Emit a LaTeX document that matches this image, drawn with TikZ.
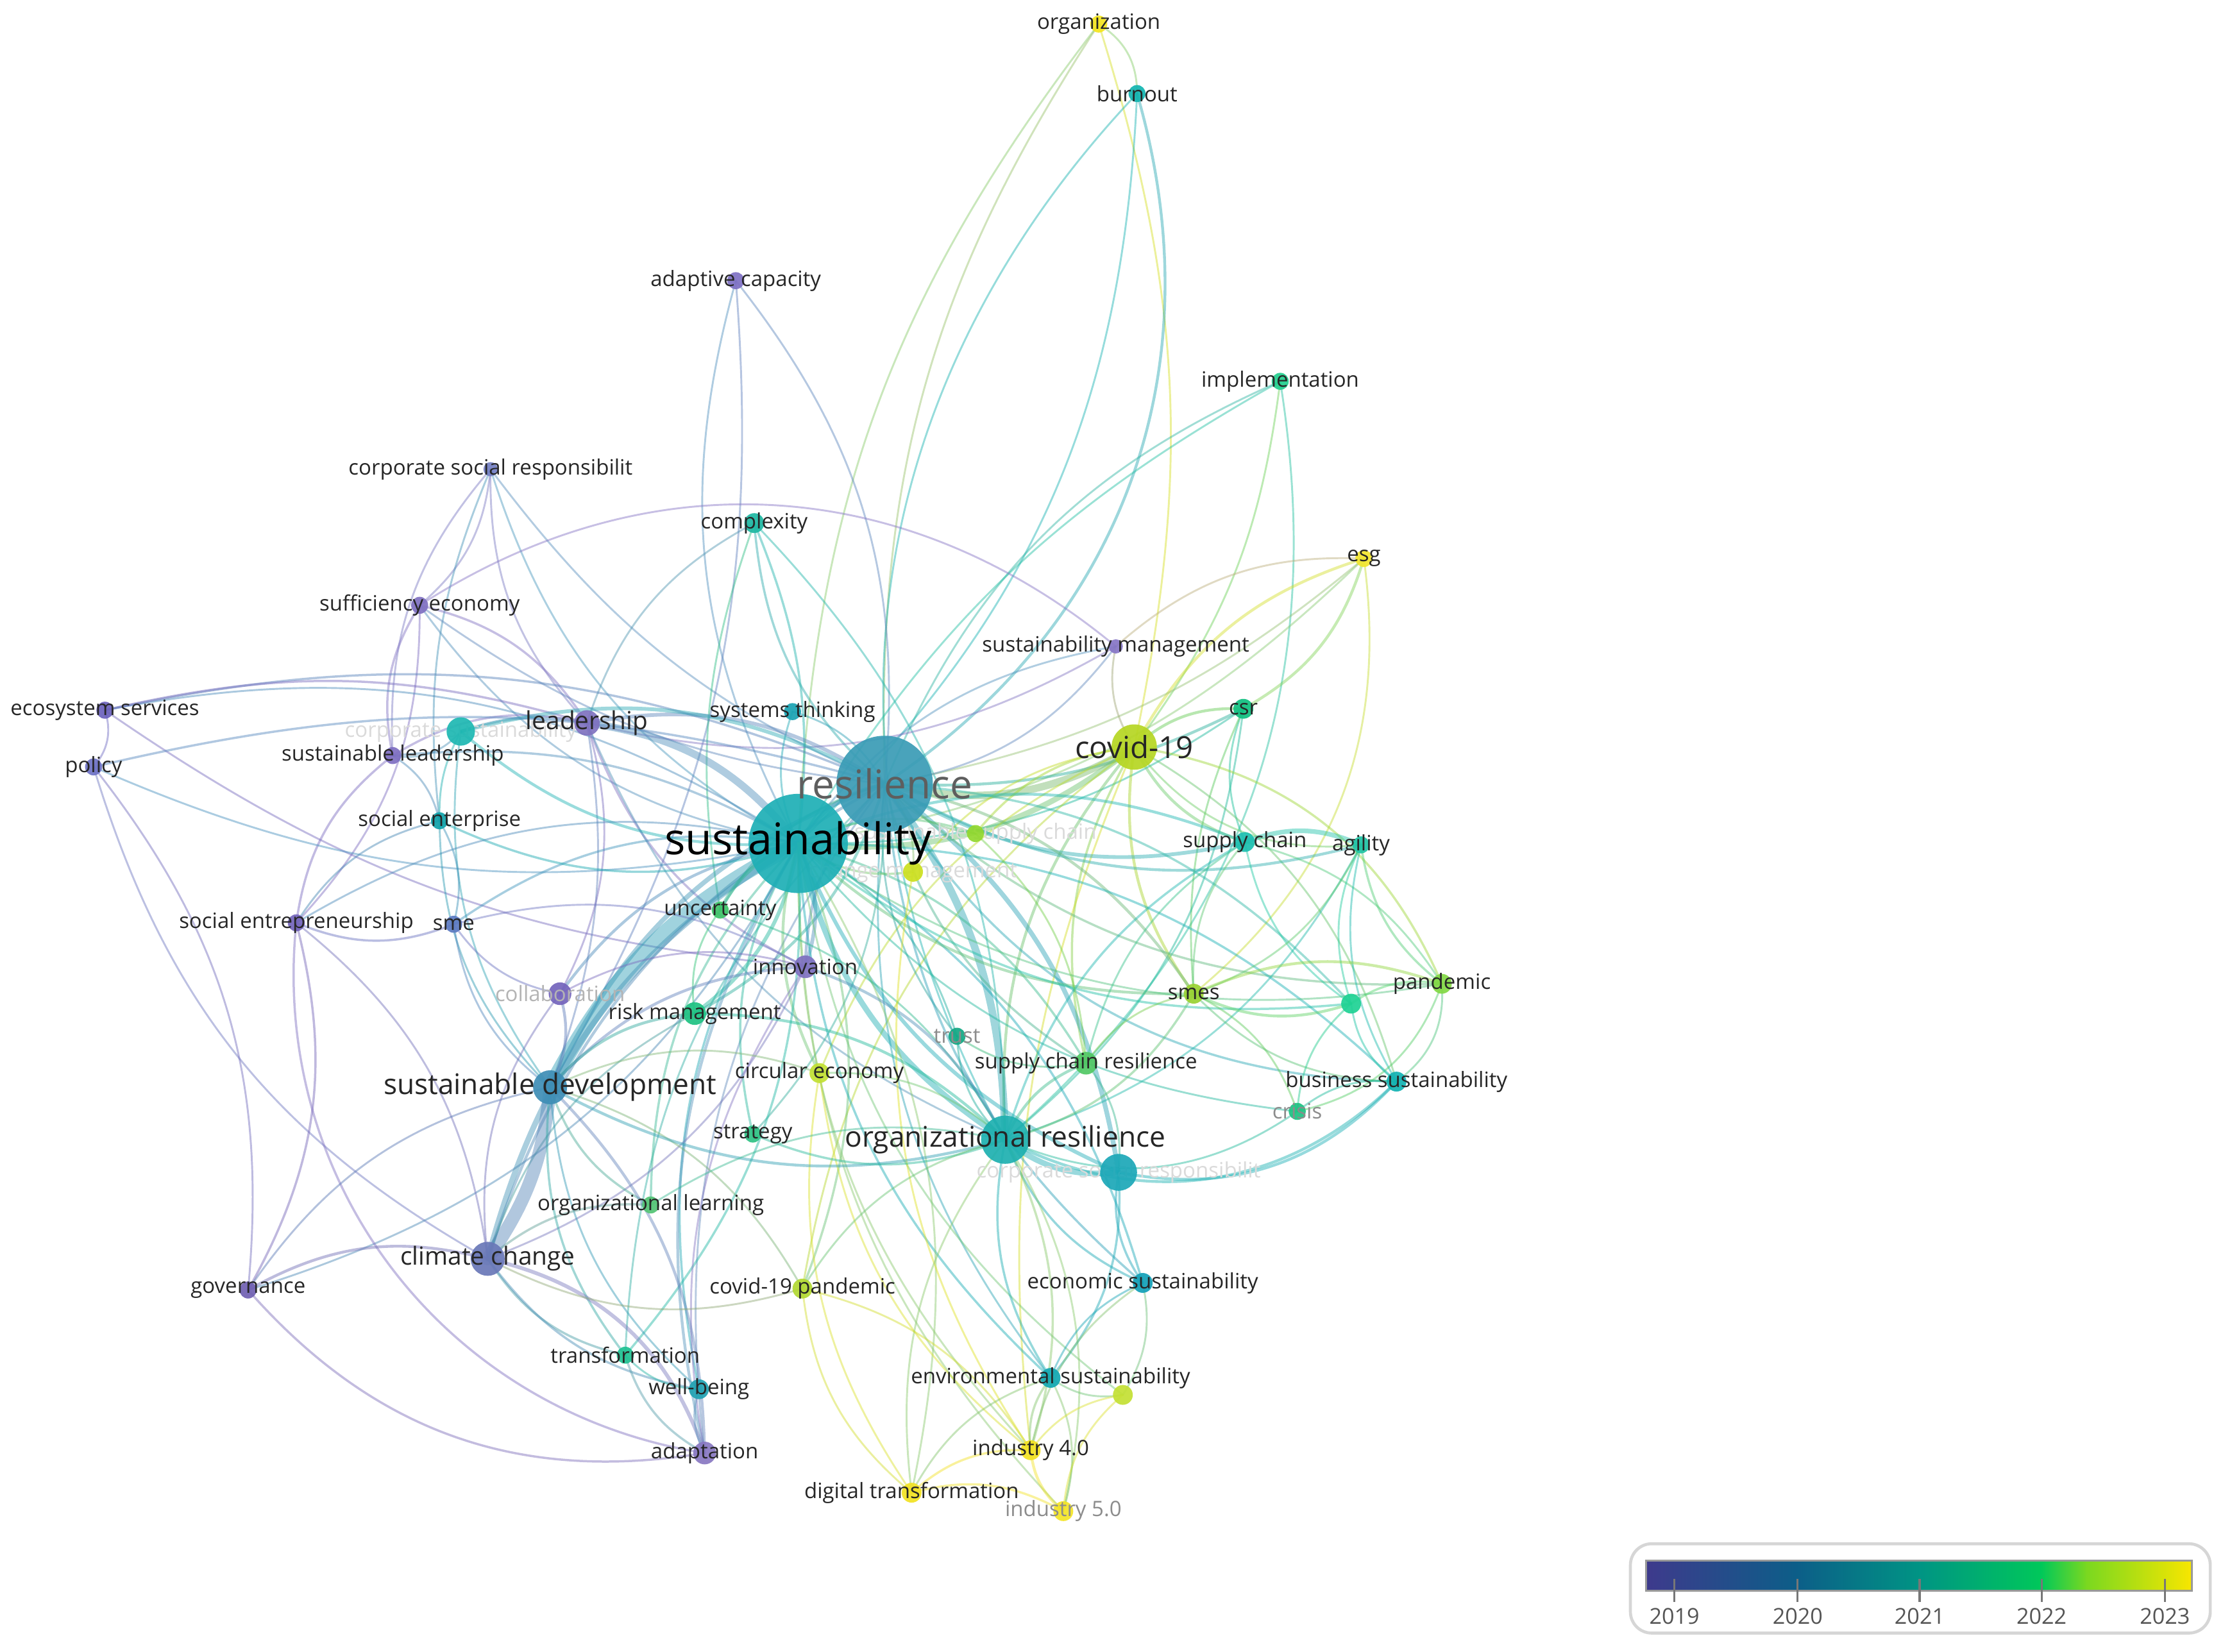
\documentclass[tikz,border=0pt]{standalone}
\usepackage{fontspec}
\setmainfont{Open Sans}
\pgfdeclarelayer{bglayer}
\pgfdeclarelayer{edgelayer}
\pgfdeclarelayer{ghostlayer}
\pgfdeclarelayer{labellayer}
\pgfsetlayers{bglayer,edgelayer,ghostlayer,main,labellayer}
\definecolor{labc}{HTML}{262626}
\definecolor{resc}{HTML}{5E5E5E}
\definecolor{ghostc}{HTML}{DADADA}
\definecolor{grayc}{HTML}{B4B4B4}
\definecolor{gray2c}{HTML}{8C8C8C}
\definecolor{legb}{HTML}{D6D6D6}
\definecolor{legt}{HTML}{555555}
\definecolor{g0}{HTML}{3E3A8C}
\definecolor{g1}{HTML}{0C5E88}
\definecolor{g2}{HTML}{009484}
\definecolor{g3}{HTML}{00C85A}
\definecolor{g4}{HTML}{7AD820}
\definecolor{g5}{HTML}{F8E600}
\tikzset{
  kw/.style={circle, inner sep=0pt, draw=none, fill opacity=0.92},
  lab/.style={inner sep=0pt, text=labc, font=\fontsize{8.5}{10}\selectfont},
  lbs/.style={lab},
  lbm/.style={lab, font=\fontsize{10}{12}\selectfont},
  lbl/.style={lab, font=\fontsize{11.4}{13}\selectfont},
  lbc/.style={lab, font=\fontsize{12.2}{14}\selectfont},
  lbres/.style={lab, text=resc, font=\fontsize{16}{19}\selectfont},
  lbsus/.style={lab, text=black, font=\fontsize{17.5}{21}\selectfont},
  lbg/.style={lab, text=ghostc},
  lbgray/.style={lab, text=grayc},
  lbgray2/.style={lab, text=gray2c},
  edge/.style={line width=#1*0.75pt, draw opacity=0.45, line cap=round},
  leglab/.style={inner sep=0pt, text=legt, font=\fontsize{8.8}{10}\selectfont},
  legtick/.style={draw=legt!80, line width=0.8pt},
}
% keyword node: name, x, y, radius, colour, label, label style
\newcommand\KW[7]{%
  \definecolor{col#1}{HTML}{#5}%
  \node[kw, fill=col#1, minimum size={#4*0.04cm}] (#1) at (#2,#3) {};%
  \begin{pgfonlayer}{labellayer}\node[#7] (#1-l) at (#2,#3) {#6};\end{pgfonlayer}%
}
% keyword node whose label is hidden behind the circles (faint)
\newcommand\KWg[6]{%
  \definecolor{col#1}{HTML}{#5}%
  \node[kw, fill=col#1, minimum size={#4*0.04cm}] (#1) at (#2,#3) {};%
  \begin{pgfonlayer}{ghostlayer}\node[lbg] (#1-l) at (#2,#3) {#6};\end{pgfonlayer}%
}
\newcommand\KWn[5]{%
  \definecolor{col#1}{HTML}{#5}%
  \node[kw, fill=col#1, minimum size={#4*0.04cm}] (#1) at (#2,#3) {};%
}
\begin{document}
\begin{tikzpicture}[x=0.02cm,y=-0.02cm]
\useasboundingbox (0,0) rectangle (1568,1165);
\begin{pgfonlayer}{bglayer}\fill[white] (0,0) rectangle (1568,1165);\end{pgfonlayer}

\KW{org}{775}{17}{6}{F5E61E}{organization}{lbs}
\KW{burn}{802}{66}{6}{12B5B0}{burnout}{lbs}
\KW{adcap}{519}{198}{6}{7E70C4}{adaptive capacity}{lbs}
\KW{impl}{903}{269}{6}{22CF8E}{implementation}{lbs}
\KW{csrA}{346}{331}{5}{7480C4}{corporate social responsibilit}{lbs}
\KW{cmplx}{532}{369}{7}{1DB8A2}{complexity}{lbs}
\KW{esg}{962}{394}{6}{F2E62E}{esg}{lbs}
\KW{suff}{296}{427}{6}{8070C2}{sufficiency economy}{lbs}
\KW{sman}{787}{456}{5}{8676C6}{sustainability management}{lbs}
\KW{eco}{74}{501}{6}{6C62BC}{ecosystem services}{lbs}
\KW{csr}{877}{500}{7}{10C080}{csr}{lbs}
\KW{syst}{559}{502}{6}{1AA2B2}{systems thinking}{lbs}
\KW{lead}{414}{510}{9}{7F72C0}{leadership}{lbm}
\KWg{tealL}{325}{516}{10}{1EB8B2}{corporate sustainability}
\KW{sleader}{277}{533}{6}{7E6EC2}{sustainable leadership}{lbs}
\KW{pol}{66}{541}{6}{6E72C6}{policy}{lbs}
\KW{cov}{800}{527}{16}{B6D622}{covid-19}{lbc}
\KW{res}{624}{553}{34}{3A9CB6}{resilience}{lbres}
\KW{sus}{563}{595}{35}{1EAFB6}{sustainability}{lbsus}
\KWg{gA}{688}{588}{6}{92D82E}{sustainable supply chain}
\KWg{yA}{644}{615}{7}{CCE01E}{change management}
\KW{sc}{878}{594}{7}{1CBFB0}{supply chain}{lbs}
\KW{agil}{960}{596}{6}{1FC3A4}{agility}{lbs}
\KW{sent}{310}{579}{6}{10A2AA}{social enterprise}{lbs}
\KW{sentr}{209}{651}{6}{7464BC}{social entrepreneurship}{lbs}
\KW{sme}{320}{652}{6}{5C7AC2}{sme}{lbs}
\KW{unc}{508}{642}{6}{3EC468}{uncertainty}{lbs}
\KW{inn}{568}{682}{8}{7E70C0}{innovation}{lbs}
\KW{coll}{395}{701}{8}{7464BC}{collaboration}{lbgray}
\KW{risk}{490}{715}{8}{1EC282}{risk management}{lbs}
\KW{smes}{842}{701}{7}{9AD232}{smes}{lbs}
\KW{pand}{1017}{694}{7}{82D844}{pandemic}{lbs}
\KWn{gB}{953}{708}{7}{1ED294}
\KW{trust}{675}{731}{6}{12A884}{trust}{lbgray2}
\KW{scr}{766}{750}{8}{52C864}{supply chain resilience}{lbs}
\KW{circ}{578}{757}{7}{C2E032}{circular economy}{lbs}
\KW{sdev}{388}{767}{12}{3E8EB6}{sustainable development}{lbl}
\KW{bsus}{985}{763}{7}{12B2B2}{business sustainability}{lbs}
\KW{crisis}{915}{784}{6}{1EC282}{crisis}{lbgray2}
\KW{strat}{531}{800}{6}{2EC284}{strategy}{lbs}
\KW{orgres}{709}{804}{17}{1EB0B0}{organizational resilience}{lbl}
\KWg{csrB}{789}{827}{13}{1CA8B8}{corporate social responsibilit}
\KW{olearn}{459}{850}{6}{52C474}{organizational learning}{lbs}
\KW{clim}{344}{888}{12}{6A78B8}{climate change}{lbm}
\KW{gov}{175}{910}{6}{7060B2}{governance}{lbs}
\KW{covp}{566}{909}{7}{B2D832}{covid-19 pandemic}{lbs}
\KW{econ}{806}{905}{7}{12A0B8}{economic sustainability}{lbs}
\KW{trans}{441}{956}{6}{20C292}{transformation}{lbs}
\KW{well}{493}{980}{7}{20A2B2}{well-being}{lbs}
\KW{envs}{741}{972}{7}{12A8B2}{environmental sustainability}{lbs}
\KWn{ygB}{792}{984}{7}{C4E034}
\KW{adapt}{497}{1025}{8}{8878C2}{adaptation}{lbs}
\KW{ind4}{727}{1023}{7}{F2E222}{industry 4.0}{lbs}
\KW{digt}{643}{1053}{7}{F2E222}{digital transformation}{lbs}
\KW{ind5}{750}{1066}{7}{F4E426}{industry 5.0}{lbgray2}

\begin{pgfonlayer}{edgelayer}
\foreach \a/\b/\w/\t in {
sus/org/1/12, res/org/1/12, cov/org/1/-10, burn/org/1/-20, res/burn/1.5/-25, sus/burn/1/-15, orgres/burn/1/25,
sus/adcap/1/15, res/adcap/1/-15, sdev/adcap/1/-12,
res/impl/1/15, sus/impl/1/10, cov/impl/1/-10, orgres/impl/1/-20,
lead/csrA/1/15, sus/csrA/1/15, sleader/csrA/1/15, suff/csrA/1/-15, res/csrA/1/10, sent/csrA/1/10,
res/cmplx/1.2/15, sus/cmplx/1.2/-10, lead/cmplx/1/15, orgres/cmplx/1/-15, unc/cmplx/1/10,
cov/esg/1.5/15, csr/esg/1.5/-15, sus/esg/1/-12, res/esg/1/-10, sman/esg/1/15, smes/esg/1/-20,
lead/suff/1.2/-15, sus/suff/1/15, sleader/suff/1.2/15, sman/suff/1/-25, sentr/suff/1/-15, res/suff/1/10,
sus/sman/1/15, res/sman/1/-15, cov/sman/1/15, lead/sman/1/-15,
pol/eco/1/-20, sus/eco/1/-15, res/eco/1.2/-12, inn/eco/1/10, lead/eco/1.2/-10,
cov/csr/1.5/15, sus/csr/1/-12, res/csr/1.5/-10, sc/csr/1/15, smes/csr/1/10, orgres/csr/1/-15,
sus/syst/1/15, res/syst/1/-15,
sus/lead/4/-15, res/lead/2/-15, tealL/lead/1.5/10, sleader/lead/1.2/15, inn/lead/1.2/15, sdev/lead/1/-10, orgres/lead/1/15, coll/lead/1/-15,
sus/tealL/1.5/15, res/tealL/2/-15, sleader/tealL/1/-20, sent/tealL/1/10, sdev/tealL/1/15,
sus/sleader/1.2/-12, sentr/sleader/1.2/15, sent/sleader/1/-15,
sus/pol/1/12, clim/pol/1/15, gov/pol/1/-15, res/pol/1.2/-10,
sus/cov/3/-15, res/cov/4/-15, sc/cov/1.5/15, smes/cov/1.5/15, pand/cov/1.2/-20, orgres/cov/1.5/15, scr/cov/1.2/15, bsus/cov/1/-15, gA/cov/1.2/15, agil/cov/1/20, circ/cov/1/15, ind4/cov/1/10, covp/cov/1/15, yA/cov/1/15,
sus/res/2/15, orgres/res/4/-12, sdev/res/2.5/15, clim/res/1.5/15, inn/res/1.5/15, unc/res/1.2/15, risk/res/1.5/-15, sc/res/2/15, smes/res/1.5/-15, scr/res/1.2/15, trust/res/1/15, strat/res/1/-15, adapt/res/1/15, trans/res/1/15, econ/res/1.2/15, csrB/res/2.5/-15, pand/res/1.2/15, gB/res/1.2/-15, envs/res/1/15, bsus/res/1.2/20, agil/res/1.5/15, gA/res/1/15, yA/res/1/-15,
sdev/sus/8/12, clim/sus/3/15, inn/sus/2/-15, unc/sus/2/15, risk/sus/2/-15, coll/sus/1.5/15, sme/sus/1.2/15, sent/sus/1.2/-15, sentr/sus/1/15, circ/sus/1.5/15, olearn/sus/1.2/15, covp/sus/1.2/-15, strat/sus/1.2/15, orgres/sus/3/15, csrB/sus/2/15, econ/sus/1.2/-15, envs/sus/1.2/15, ind4/sus/1/15, digt/sus/1/-15, ind5/sus/1/15, gov/sus/1/-15, well/sus/1.2/15, trans/sus/1.2/-15, adapt/sus/1.5/15, scr/sus/1.2/-15, sc/sus/1.5/-15, smes/sus/1.5/15, bsus/sus/1.2/-15, pand/sus/1/15, gB/sus/1.2/15, trust/sus/1/-15, crisis/sus/1/15, gA/sus/1.2/-15, yA/sus/1.2/15, ygB/sus/1/15,
agil/sc/2.5/-15, orgres/sc/1.2/15, smes/sc/1/15, pand/sc/1/-15, scr/sc/1/15, gB/sc/1/15,
pand/agil/1.2/15, bsus/agil/1/15, orgres/agil/1/-15, smes/agil/1/-15, gB/agil/1/15,
sentr/sent/1/15, sme/sent/1/-15, sdev/sent/1/15,
sme/sentr/1.2/15, gov/sentr/1.2/-15, clim/sentr/1/-15, adapt/sentr/1.2/30,
sdev/sme/1/15, inn/sme/1/-15, coll/sme/1/15,
risk/unc/1/15, orgres/unc/1/-15,
sdev/inn/1.5/15, orgres/inn/1.5/-15, coll/inn/1/15, adapt/inn/1/15, clim/inn/1/-15,
sdev/coll/1.5/-15, clim/coll/1/15,
sdev/risk/1.5/15, orgres/risk/1.5/-15, clim/risk/1/15,
pand/smes/1.5/-15, gB/smes/1.5/15, scr/smes/1/15, orgres/smes/1.2/-15, bsus/smes/1/15, crisis/smes/1/-15,
gB/pand/1.2/15, bsus/pand/1/-20, crisis/pand/1/-20, bsus/gB/1/15, crisis/gB/1/15,
scr/trust/1/15, orgres/trust/1/15, orgres/scr/1.5/15, csrB/scr/1/-15, gA/scr/1/15, ind4/yA/1/15,
sdev/circ/1/15, orgres/circ/1/-15, ind4/circ/1/15, digt/circ/1/15,
clim/sdev/7/-10, olearn/sdev/1.2/15, gov/sdev/1/15, covp/sdev/1/-15, orgres/sdev/1.5/15, trans/sdev/1.2/15, adapt/sdev/1.5/-15, well/sdev/1/15,
csrB/bsus/1.5/-20, crisis/bsus/1/15, orgres/bsus/1.5/-25, orgres/crisis/1/-20, orgres/strat/1.2/15,
csrB/orgres/3/15, econ/orgres/1.2/15, envs/orgres/1.2/15, ind4/orgres/1.2/-15, digt/orgres/1/15, ind5/orgres/1/-15, covp/orgres/1/15, olearn/orgres/1/15,
econ/csrB/1.2/15, envs/csrB/1.2/-15,
clim/olearn/1.2/15, gov/clim/1.5/15, adapt/clim/2/-20, trans/clim/1.2/15, well/clim/1.2/15, covp/clim/1/15,
digt/covp/1/15, ind4/covp/1/-15,
envs/econ/1/15, ind4/econ/1/15, ygB/econ/1/-15,
adapt/trans/1.2/15, well/trans/1/15, adapt/well/1.2/15,
ind4/envs/1.2/15, ind5/envs/1/-15, ygB/envs/1/15, digt/envs/1/15,
ind4/ygB/1/15, ind5/ygB/1/15, gov/adapt/1.2/-20,
ind5/ind4/1.5/15, digt/ind4/1.2/15, ind5/digt/1.2/-15}
{\pgfmathsetmacro\bb{1.45*\t}\draw[edge=\w, draw={col\a!50!col\b}] (\a.center) to[bend left=\bb] (\b.center);}
\end{pgfonlayer}

% legend
\draw[draw=legb, line width=1.2pt, rounded corners=0.3cm] (1150,1089) rectangle (1559,1152);
\shade[left color=g0, right color=g1] (1161,1101) rectangle (1268,1122);
\shade[left color=g1, right color=g2] (1267.5,1101) rectangle (1354,1122);
\shade[left color=g2, right color=g3] (1353.5,1101) rectangle (1440,1122);
\shade[left color=g3, right color=g4] (1439.5,1101) rectangle (1472,1122);
\shade[left color=g4, right color=g5] (1471.5,1101) rectangle (1546,1122);
\draw[draw=gray!80, line width=0.7pt] (1161,1101) rectangle (1546,1122);
\foreach \x/\yr in {1181/2019,1268/2020,1354/2021,1440/2022,1527/2023}{
  \draw[legtick] (\x,1114) -- (\x,1130);
  \node[leglab] (yr\yr) at (\x,1140) {\yr};
}
\end{tikzpicture}
\end{document}
